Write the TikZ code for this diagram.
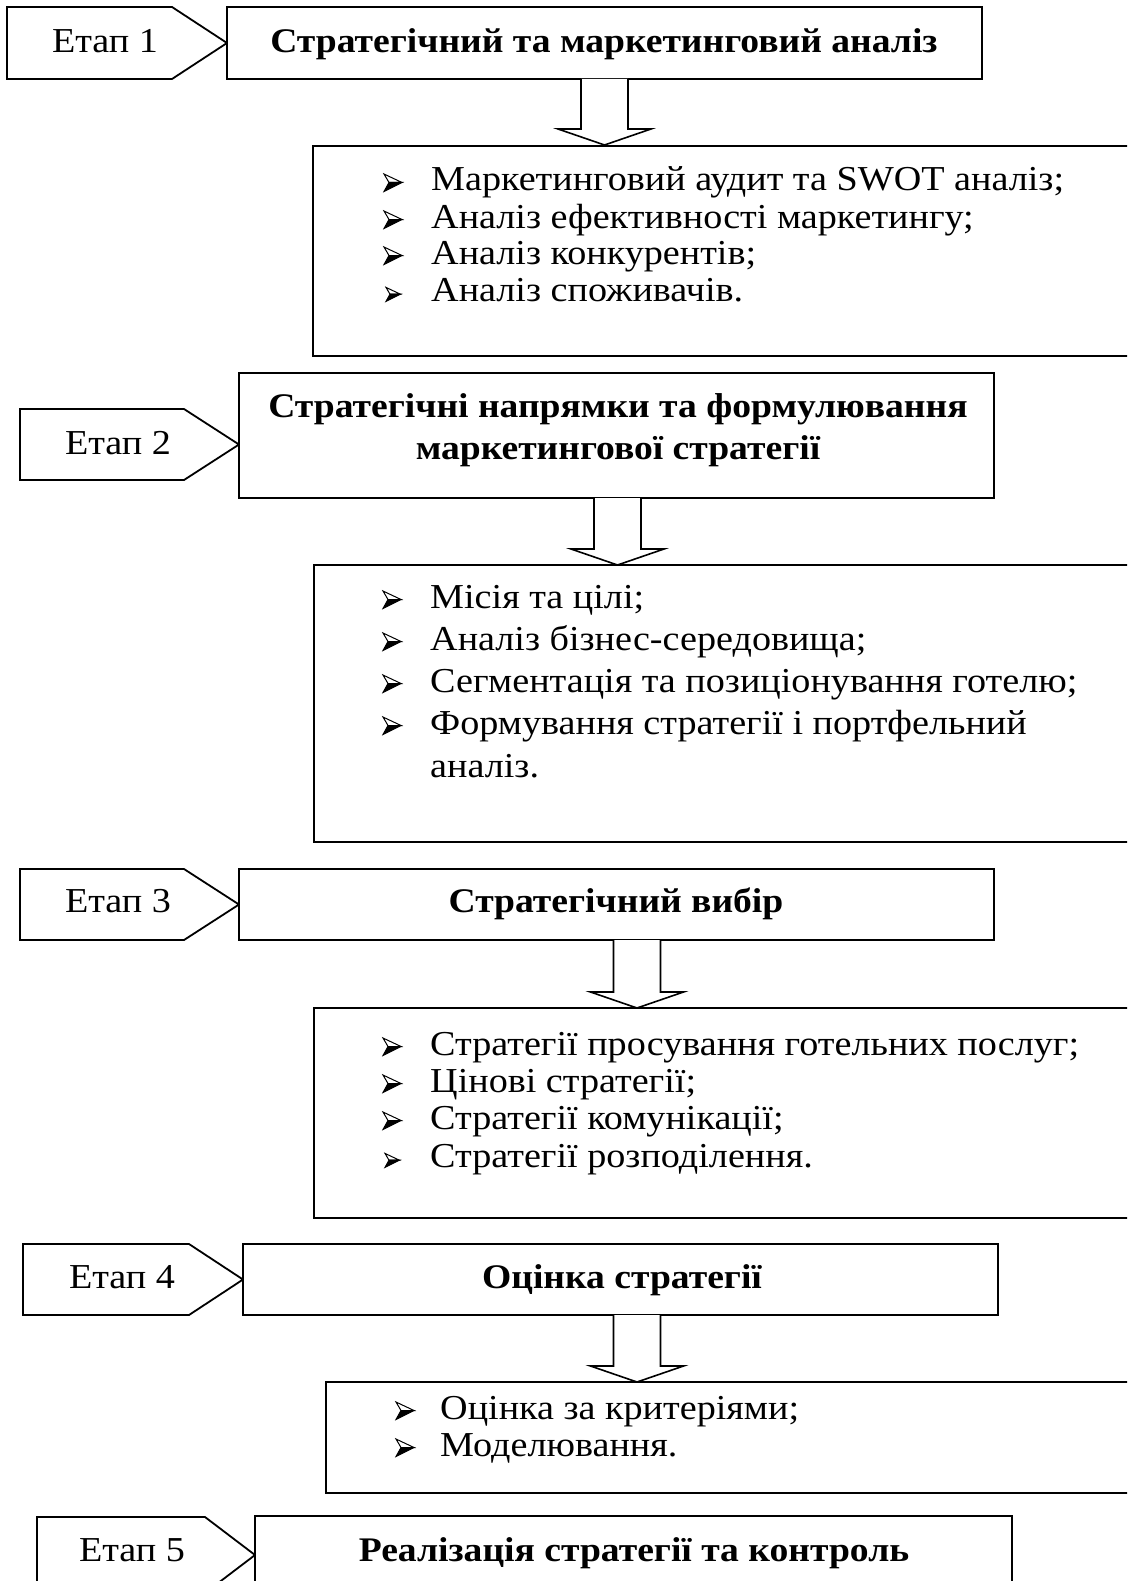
\documentclass[tikz,border=0pt]{standalone}
\usepackage{fontspec}
\setmainfont{Liberation Serif}[FakeStretch=1.09]
\usetikzlibrary{calc}

\newcommand\itemfont{\fontsize{35}{38}\selectfont}
\newcommand\headfont{\fontsize{34.5}{42}\selectfont\bfseries}

\tikzset{
  frame/.style={draw=black, line width=1.8pt, fill=white, inner sep=0pt, outer sep=0pt, rectangle},
  stage/.style={draw=black, line width=1.8pt, fill=white, line join=miter},
  stagetext/.style={anchor=base, inner sep=0pt, font=\itemfont},
  headtext/.style={anchor=base, inner sep=0pt, font=\headfont, align=center},
  itemtext/.style={anchor=base west, inner sep=0pt, font=\itemfont},
  blk/.style={draw=black, line width=1.6pt, fill=white, line join=miter},
  pics/harrow/.style={code={
    \draw[blk] (-23.5,0) -- (-23.5,#1-16) -- (-46.5,#1-16) -- (0,#1)
      -- (46.5,#1-16) -- (23.5,#1-16) -- (23.5,0);
  }},
  pics/bul/.style={code={
    \draw[line width=1pt, fill=white, line join=miter] (0,-17) -- (18,-8.5) -- (5,-8.5) -- cycle;
    \draw[line width=1pt, fill=black, line join=miter] (5,-8.5) -- (18,-8.5) -- (0,0.5) -- cycle;
  }},
}

\begin{document}
\begin{tikzpicture}[x=1pt, y=-1pt]
\useasboundingbox (0,0) rectangle (1127,1581);
\clip (0,0) rectangle (1127,1581);
\fill[white] (0,0) rectangle (1127,1581);

% centre lines of the hollow arrows
\coordinate (c1) at (604.5,0);
\coordinate (c2) at (617.5,0);
\coordinate (c3) at (637,0);
\coordinate (c4) at (637,0);

% ---------------- Stage 1 ----------------
\draw[stage] (7,7) -- (172,7) -- (227,43) -- (172,79) -- (7,79) -- cycle;
\node[stagetext] (e1) at (105,53) {Етап 1};
\node[frame, minimum width=755, minimum height=72] (h1) at (604.5,43) {};
\node[headtext] (t1) at (604,53) {Стратегічний та маркетинговий аналіз};

\node[frame, minimum width=827, minimum height=210] (l1) at (726.5,251) {};
\pic at (384,191) {bul};
\pic at (384,228) {bul};
\pic at (384,264) {bul};
\pic[scale=0.8] at (386,301) {bul};
\node[itemtext] (l1a) at (431,191) {Маркетинговий аудит та SWOT аналіз;};
\node[itemtext] (l1b) at (431,228) {Аналіз ефективності маркетингу;};
\node[itemtext] (l1c) at (431,264) {Аналіз конкурентів;};
\node[itemtext] (l1d) at (431,301) {Аналіз споживачів.};
\pic at (h1.south -| c1) {harrow=66};

% ---------------- Stage 2 ----------------
\draw[stage] (20,409) -- (184,409) -- (239,444.5) -- (184,480) -- (20,480) -- cycle;
\node[stagetext] (e2) at (118,454) {Етап 2};
\node[frame, minimum width=755, minimum height=125] (h2) at (616.5,435.5) {};
\node[headtext] (t2a) at (618,417) {Стратегічні напрямки та формулювання};
\node[headtext] (t2b) at (618,459) {маркетингової стратегії};

\node[frame, minimum width=826, minimum height=277] (l2) at (727,703.5) {};
\pic at (383,608) {bul};
\pic at (383,650) {bul};
\pic at (383,692) {bul};
\pic at (383,734) {bul};
\node[itemtext] (l2a) at (430,608) {Місія та цілі;};
\node[itemtext] (l2b) at (430,650) {Аналіз бізнес-середовища;};
\node[itemtext] (l2c) at (430,692) {Сегментація та позиціонування готелю;};
\node[itemtext] (l2d) at (430,734) {Формування стратегії і портфельний};
\node[itemtext] (l2e) at (430,777) {аналіз.};
\pic at (h2.south -| c2) {harrow=67};

% ---------------- Stage 3 ----------------
\draw[stage] (20,869) -- (184,869) -- (239,904.5) -- (184,940) -- (20,940) -- cycle;
\node[stagetext] (e3) at (118,912) {Етап 3};
\node[frame, minimum width=755, minimum height=71] (h3) at (616.5,904.5) {};
\node[headtext] (t3) at (616,912) {Стратегічний вибір};

\node[frame, minimum width=826, minimum height=210] (l3) at (727,1113) {};
\pic at (383,1055) {bul};
\pic at (383,1092) {bul};
\pic at (383,1129) {bul};
\pic[scale=0.8] at (385,1167) {bul};
\node[itemtext] (l3a) at (430,1055) {Стратегії просування готельних послуг;};
\node[itemtext] (l3b) at (430,1092) {Цінові стратегії;};
\node[itemtext] (l3c) at (430,1129) {Стратегії комунікації;};
\node[itemtext] (l3d) at (430,1167) {Стратегії розподілення.};
\pic at (h3.south -| c3) {harrow=68};

% ---------------- Stage 4 ----------------
\draw[stage] (23,1244) -- (189,1244) -- (243,1279.5) -- (189,1315) -- (23,1315) -- cycle;
\node[stagetext] (e4) at (122,1288) {Етап 4};
\node[frame, minimum width=755, minimum height=71] (h4) at (620.5,1279.5) {};
\node[headtext] (t4) at (622,1288) {Оцінка стратегії};

\node[frame, minimum width=814, minimum height=111] (l4) at (733,1437.5) {};
\pic at (396,1419) {bul};
\pic at (396,1456) {bul};
\node[itemtext] (l4a) at (440,1419) {Оцінка за критеріями;};
\node[itemtext] (l4b) at (440,1456) {Моделювання.};
\pic at (h4.south -| c4) {harrow=67};

% ---------------- Stage 5 ----------------
\draw[stage] (37,1517) -- (205,1517) -- (255,1555) -- (205,1593) -- (37,1593) -- cycle;
\node[stagetext] (e5) at (132,1561) {Етап 5};
\node[frame, minimum width=757, minimum height=80] (h5) at (633.5,1556) {};
\node[headtext] (t5) at (634,1561) {Реалізація стратегії та контроль};
\end{tikzpicture}
\end{document}
